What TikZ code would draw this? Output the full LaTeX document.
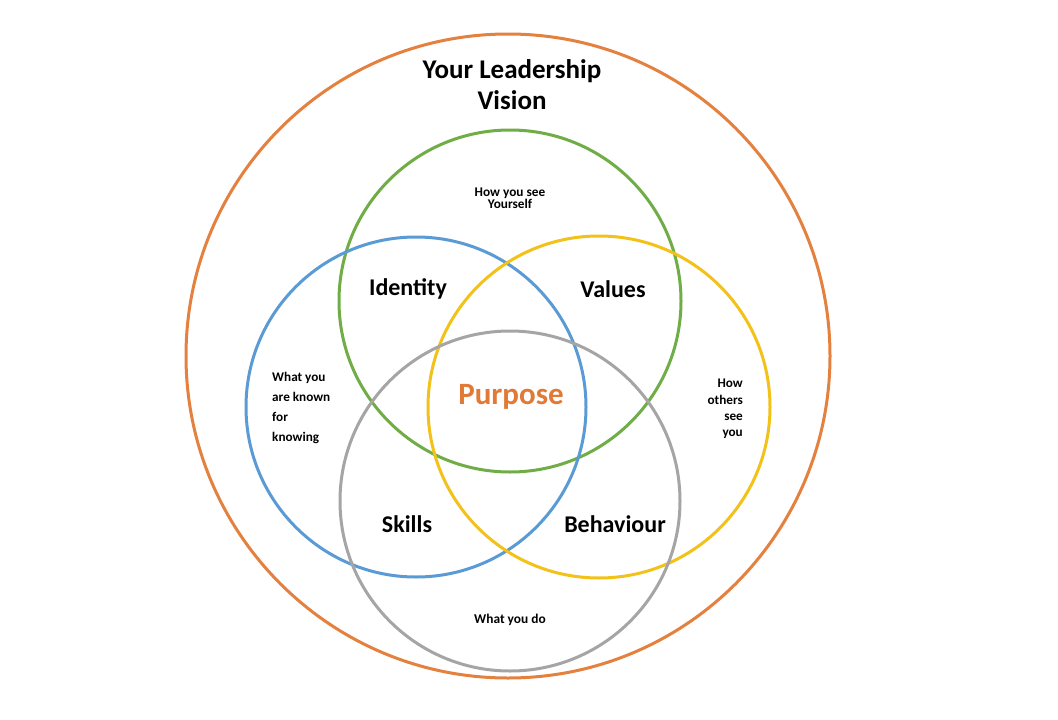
\documentclass[tikz,border=0pt]{standalone}
\usepackage{fontspec}
\setmainfont{Carlito}
\definecolor{corange}{HTML}{E4813F}
\definecolor{cgreen}{HTML}{70AD47}
\definecolor{cblue}{HTML}{5B9BD5}
\definecolor{cyellow}{HTML}{F2C21B}
\definecolor{cgray}{HTML}{A5A5A5}
\definecolor{cpurpose}{HTML}{E07A36}
\begin{document}
\begin{tikzpicture}[x=1pt,y=-1pt,
  ring/.style={line width=3pt},
  bigtxt/.style={font=\fontsize{27}{31}\selectfont\bfseries, align=center, inner sep=0pt},
  midtxt/.style={font=\fontsize{24}{26}\selectfont\bfseries, inner sep=0pt},
  smalltxt/.style={font=\fontsize{13.4}{14}\selectfont\bfseries, inner sep=0pt}]
\useasboundingbox (0,0) rectangle (1058,720);
\fill[white] (0,0) rectangle (1058,720);
\draw[ring, corange] (508,356) circle (322pt);
\draw[ring, cgreen] (510,301) circle (171pt);
\draw[ring, cblue] (416,407) circle (170pt);
\draw[ring, cyellow] (599,407) circle (171pt);
\draw[ring, cgray] (510,501) circle (170pt);
\node[bigtxt] (title) at (512,85) {Your Leadership\\Vision};
\node[smalltxt, align=center, font=\fontsize{13.3}{12}\selectfont\bfseries] (self) at (510,198) {How you see\\Yourself};
\node[midtxt] (identity) at (408,289) {Identity};
\node[midtxt] (values) at (613,289) {Values};
\node[midtxt] (skills) at (407,524) {Skills};
\node[midtxt] (behaviour) at (615,524) {Behaviour};
\node[font=\fontsize{31}{32}\selectfont\bfseries, text=cpurpose, inner sep=0pt] (purpose) at (511,397) {Purpose};
\node[smalltxt, align=left, font=\fontsize{13.2}{20}\selectfont\bfseries, anchor=west] (known) at (272,407.5) {What you\\are known\\for\\knowing};
\node[smalltxt, align=right, font=\fontsize{13.2}{16.3}\selectfont\bfseries, anchor=east] (others) at (743,409) {How\\others\\see\\you};
\node[smalltxt] (do) at (510,620) {What you do};
\end{tikzpicture}
\end{document}
